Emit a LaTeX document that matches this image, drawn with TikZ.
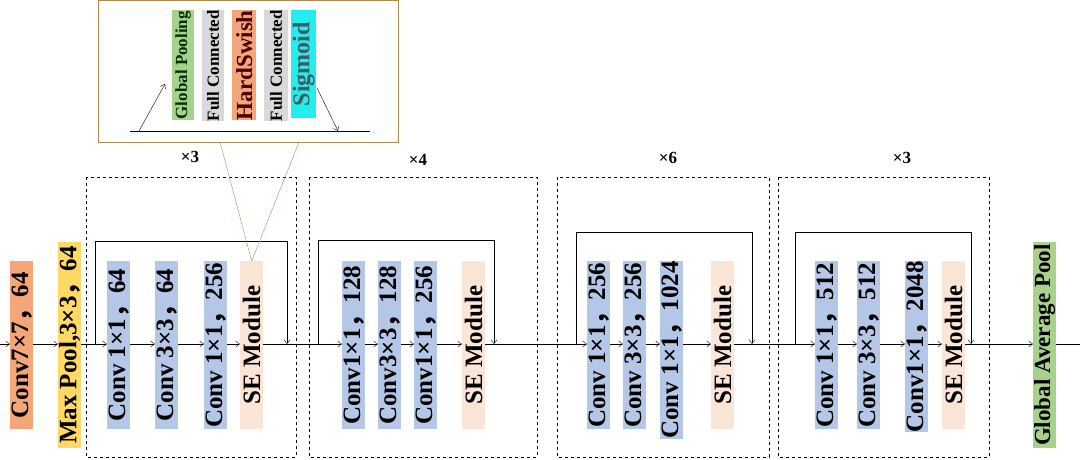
\documentclass[tikz,border=0pt]{standalone}
\usepackage{fontspec}
\setmainfont{Liberation Serif}
\newfontfamily\cjk{Noto Sans CJK SC}
\newcommand{\cm}{{\cjk ，}}
\usetikzlibrary{arrows.meta}
\definecolor{cblue}{HTML}{B4C7E7}
\definecolor{corange}{HTML}{F4A679}
\definecolor{cyel}{HTML}{FFD966}
\definecolor{cse}{HTML}{FBE5D6}
\definecolor{cgreen}{HTML}{A9D18E}
\definecolor{cgray}{HTML}{D9D9D9}
\definecolor{ccyan}{HTML}{22EEEE}
\definecolor{cbrown}{HTML}{B08A50}
\tikzset{
 blk/.style={minimum width=23pt,inner sep=0pt,anchor=north west,font=\bfseries\fontsize{25}{25}\selectfont},
 sblk/.style={minimum width=22pt,inner sep=0pt,anchor=north west,font=\bfseries\fontsize{17}{17}\selectfont},
 grp/.style={draw,dashed,thin},
 arr/.style={-{Straight Barb[length=4pt,width=6pt]},thin},
 lab/.style={font=\bfseries\fontsize{17}{17}\selectfont}
}
\begin{document}
\begin{tikzpicture}[x=1pt,y=-1pt]
\useasboundingbox (0,0) rectangle (1080,459);
% groups
\draw[grp] (86,177) rectangle (296,457);
\draw[grp] (309,177) rectangle (537,457);
\draw[grp] (557,177) rectangle (769,457);
\draw[grp] (778,177) rectangle (989,457);
\node[lab] at (190,157) {×3};
\node[lab] at (418,160) {×4};
\node[lab] at (668,158) {×6};
\node[lab] at (902,158) {×3};
% blocks
\newcommand{\vb}[5]{\node[blk,fill=#4,minimum height=#3pt] (#1) at (#2) {\rotatebox{90}{#5}};}
\vb{c7}{10,261}{168}{corange}{Conv7×7\cm 64}
\vb{mp}{58,242}{206}{cyel}{Max Pool,3×3\cm 64}
\vb{a1}{107,261}{168}{cblue}{Conv 1×1\cm 64}
\vb{a2}{155,261}{168}{cblue}{Conv 3×3\cm 64}
\vb{a3}{204,261}{168}{cblue}{Conv 1×1\cm 256}
\vb{a4}{240,261}{168}{cse}{SE Module}
\vb{b1}{342,261}{168}{cblue}{Conv1×1\cm 128}
\vb{b2}{378,261}{168}{cblue}{Conv3×3\cm 128}
\vb{b3}{414,261}{168}{cblue}{Conv1×1\cm 256}
\vb{b4}{462,261}{168}{cse}{SE Module}
\vb{d1}{587,261}{168}{cblue}{Conv 1×1\cm 256}
\vb{d2}{623,261}{168}{cblue}{Conv 3×3\cm 256}
\vb{d3}{660,261}{168}{cblue}{Conv 1×1\cm 1024}
\vb{d4}{711,261}{168}{cse}{SE Module}
\vb{e1}{815,261}{168}{cblue}{Conv 1×1\cm 512}
\vb{e2}{857,261}{168}{cblue}{Conv 3×3\cm 512}
\vb{e3}{905,261}{168}{cblue}{Conv1×1\cm 2048}
\vb{e4}{942,261}{168}{cse}{SE Module}
\vb{gap}{1033,242}{206}{cgreen}{\fontsize{23}{23}\selectfont Global Average Pool}
% main line
\coordinate (L0) at (0,344); \coordinate (R0) at (1080,344);
\draw[arr] (L0) -- (c7.west|-L0);
\draw[arr] (c7.east|-L0) -- (mp.west|-L0);
\draw[arr] (mp.east|-L0) -- (a1.west|-L0);
\draw[arr] (a1.east|-L0) -- (a2.west|-L0);
\draw[arr] (a2.east|-L0) -- (a3.west|-L0);
\draw[arr] (a3.east|-L0) -- (a4.west|-L0);
\draw[arr] (a4.east|-L0) -- (b1.west|-L0);
\draw[arr] (b1.east|-L0) -- (b2.west|-L0);
\draw[arr] (b2.east|-L0) -- (b3.west|-L0);
\draw[arr] (b3.east|-L0) -- (b4.west|-L0);
\draw[arr] (b4.east|-L0) -- (d1.west|-L0);
\draw[arr] (d1.east|-L0) -- (d2.west|-L0);
\draw[arr] (d2.east|-L0) -- (d3.west|-L0);
\draw[arr] (d3.east|-L0) -- (d4.west|-L0);
\draw[arr] (d4.east|-L0) -- (e1.west|-L0);
\draw[arr] (e1.east|-L0) -- (e2.west|-L0);
\draw[arr] (e2.east|-L0) -- (e3.west|-L0);
\draw[arr] (e3.east|-L0) -- (e4.west|-L0);
\draw[arr] (e4.east|-L0) -- (gap.west|-L0);
\draw (gap.east|-L0) -- (R0);
% skips
\draw[arr] (95,344) -- (95,241) -- (287,241) -- (287,344);
\draw[arr] (318,344) -- (318,240) -- (494,240) -- (494,344);
\draw[arr] (576,344) -- (576,232) -- (752,232) -- (752,344);
\draw[arr] (795,344) -- (795,232) -- (971,232) -- (971,344);
% inset
\node[draw=cbrown,thick,minimum width=300pt,minimum height=142pt,anchor=north west,inner sep=0pt,fill=white] (ins) at (98,0) {};
\draw[cbrown] (220,142) -- (a4.north);
\draw[cbrown] (299,142) -- (a4.north);
\coordinate (il) at (130,131); \coordinate (ir) at (370,131);
\draw (il) -- (ir);
\node[sblk,fill=cgreen,minimum height=110pt] (s1) at (172,10) {\rotatebox{90}{\color{black!80!green}Global Pooling}};
\node[sblk,fill=cgray,minimum height=110pt] (s2) at (202,10) {\rotatebox{90}{Full Connected}};
\node[sblk,fill=corange,minimum width=24pt,minimum height=110pt,font=\bfseries\fontsize{23}{23}\selectfont] (s3) at (232,10) {\rotatebox{90}{\color{black!70!red}HardSwish}};
\node[sblk,fill=cgray,minimum width=24pt,minimum height=110pt] (s4) at (264,10) {\rotatebox{90}{Full Connected}};
\node[sblk,fill=ccyan,minimum width=25pt,minimum height=108pt,font=\bfseries\fontsize{24}{24}\selectfont] (s5) at (291,10) {\rotatebox{90}{\color{black!70!cyan}Sigmoid}};
\coordinate (p1) at (139,131); \coordinate (p2) at (165,84);
\coordinate (q1) at (317,88); \coordinate (q2) at (338,131);
\draw[arr] (p1) -- (p2);
\draw[arr] (q1) -- (q2);
\end{tikzpicture}
\end{document}
